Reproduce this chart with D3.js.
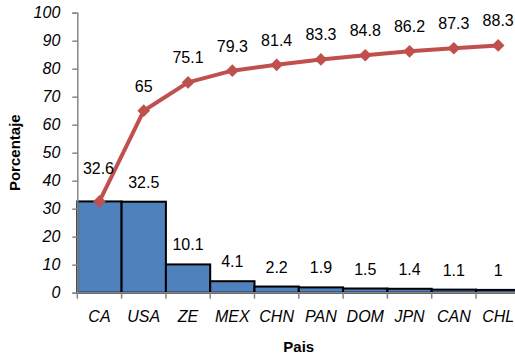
<!DOCTYPE html>
<html>
<head>
<meta charset="utf-8">
<script src="https://cdn.jsdelivr.net/npm/d3@7"></script>
<style>
  html, body { margin: 0; padding: 0; background: #fff; }
  svg { display: block; }
  text { font-family: "Liberation Sans", Arial, sans-serif; }
</style>
</head>
<body>
<svg id="chart" width="515" height="356"></svg>
<script>
// Pareto chart: share per country (bars) and cumulative share (line)
const paises = ["CA", "USA", "ZE", "MEX", "CHN", "PAN", "DOM", "JPN", "CAN", "CHL"];
const porcentaje = [32.6, 32.5, 10.1, 4.1, 2.2, 1.9, 1.5, 1.4, 1.1, 1];
const acumulado = [32.6, 65, 75.1, 79.3, 81.4, 83.3, 84.8, 86.2, 87.3, 88.3];
const yTicks = [0, 10, 20, 30, 40, 50, 60, 70, 80, 90, 100];

const svg = d3.select("#chart");
const plotLeft = 77.3, plotRight = 520.3, plotTop = 12.7, plotBottom = 292.7;

const x = d3.scaleBand().domain(paises).range([plotLeft, plotRight]).padding(0);
const y = d3.scaleLinear().domain([0, 100]).range([plotBottom, plotTop]);

const axisColor = "#868686";

// Bars
svg.append("g").selectAll("rect")
  .data(paises)
  .join("rect")
  .attr("x", d => x(d))
  .attr("y", (d, i) => y(porcentaje[i]))
  .attr("width", x.bandwidth())
  .attr("height", (d, i) => y(0) - y(porcentaje[i]))
  .attr("fill", "#4f81bd")
  .attr("stroke", "#000")
  .attr("stroke-width", 2);

// Y axis
const yAxis = d3.axisLeft(y).tickValues(yTicks).tickSize(5).tickPadding(12);
const gy = svg.append("g").attr("transform", `translate(${plotLeft},0)`).call(yAxis);
gy.select(".domain").attr("stroke", axisColor).attr("stroke-width", 1.5);
gy.selectAll(".tick line").attr("stroke", axisColor).attr("stroke-width", 1.5);
gy.selectAll(".tick text")
  .attr("fill", "#000")
  .style("font-size", "16px")
  .style("font-style", "italic")
  .style("font-family", "'Liberation Sans', Arial, sans-serif");

// X axis: ticks at category boundaries
const gx = svg.append("g").attr("transform", `translate(0,${plotBottom})`);
gx.append("line")
  .attr("x1", plotLeft).attr("x2", plotRight)
  .attr("stroke", axisColor).attr("stroke-width", 1.5);
gx.selectAll("line.tk")
  .data(paises.concat(["_end"]))
  .join("line")
  .attr("class", "tk")
  .attr("x1", (d, i) => i < paises.length ? x(d) : plotRight)
  .attr("x2", (d, i) => i < paises.length ? x(d) : plotRight)
  .attr("y1", 0).attr("y2", 6)
  .attr("stroke", axisColor).attr("stroke-width", 1.5);
gx.selectAll("text")
  .data(paises)
  .join("text")
  .attr("x", d => x(d) + x.bandwidth() / 2)
  .attr("y", 29)
  .attr("text-anchor", "middle")
  .style("font-size", "16px")
  .style("font-style", "italic")
  .text(d => d);

// Bar value labels (where a bar equals the cumulative value, the line label covers it)
svg.append("g").selectAll("text")
  .data(paises.filter((d, i) => porcentaje[i] !== acumulado[i]))
  .join("text")
  .attr("x", d => x(d) + x.bandwidth() / 2)
  .attr("y", d => y(porcentaje[paises.indexOf(d)]) - 14)
  .attr("text-anchor", "middle")
  .style("font-size", "16px")
  .text(d => porcentaje[paises.indexOf(d)]);

// Cumulative line
const cx = d => x(d) + x.bandwidth() / 2;
const line = d3.line().x((d, i) => cx(paises[i])).y(d => y(d));
svg.append("path")
  .datum(acumulado)
  .attr("d", line)
  .attr("fill", "none")
  .attr("stroke", "#c0504d")
  .attr("stroke-width", 4)
  .attr("stroke-linejoin", "round");

svg.append("g").selectAll("rect")
  .data(acumulado)
  .join("rect")
  .attr("x", -4.5).attr("y", -4.5)
  .attr("width", 9).attr("height", 9)
  .attr("fill", "#c0504d")
  .attr("transform", (d, i) => `translate(${cx(paises[i])},${y(d)}) rotate(45)`);

// Cumulative value labels (first one lifted clear of the neighbouring bar label)
svg.append("g").selectAll("text")
  .data(acumulado)
  .join("text")
  .attr("x", (d, i) => cx(paises[i]) - (i === 0 ? 1 : 0))
  .attr("y", (d, i) => y(d) - (i === 0 ? 27 : 19))
  .attr("text-anchor", "middle")
  .style("font-size", "16px")
  .text(d => d);

// Axis titles
svg.append("text")
  .attr("transform", `translate(20,${(plotTop + plotBottom) / 2}) rotate(-90)`)
  .attr("text-anchor", "middle")
  .style("font-size", "15px")
  .style("font-weight", "bold")
  .text("Porcentaje");

svg.append("text")
  .attr("x", (plotLeft + plotRight) / 2)
  .attr("y", 352)
  .attr("text-anchor", "middle")
  .style("font-size", "15px")
  .style("font-weight", "bold")
  .text("Pais");
</script>
</body>
</html>
